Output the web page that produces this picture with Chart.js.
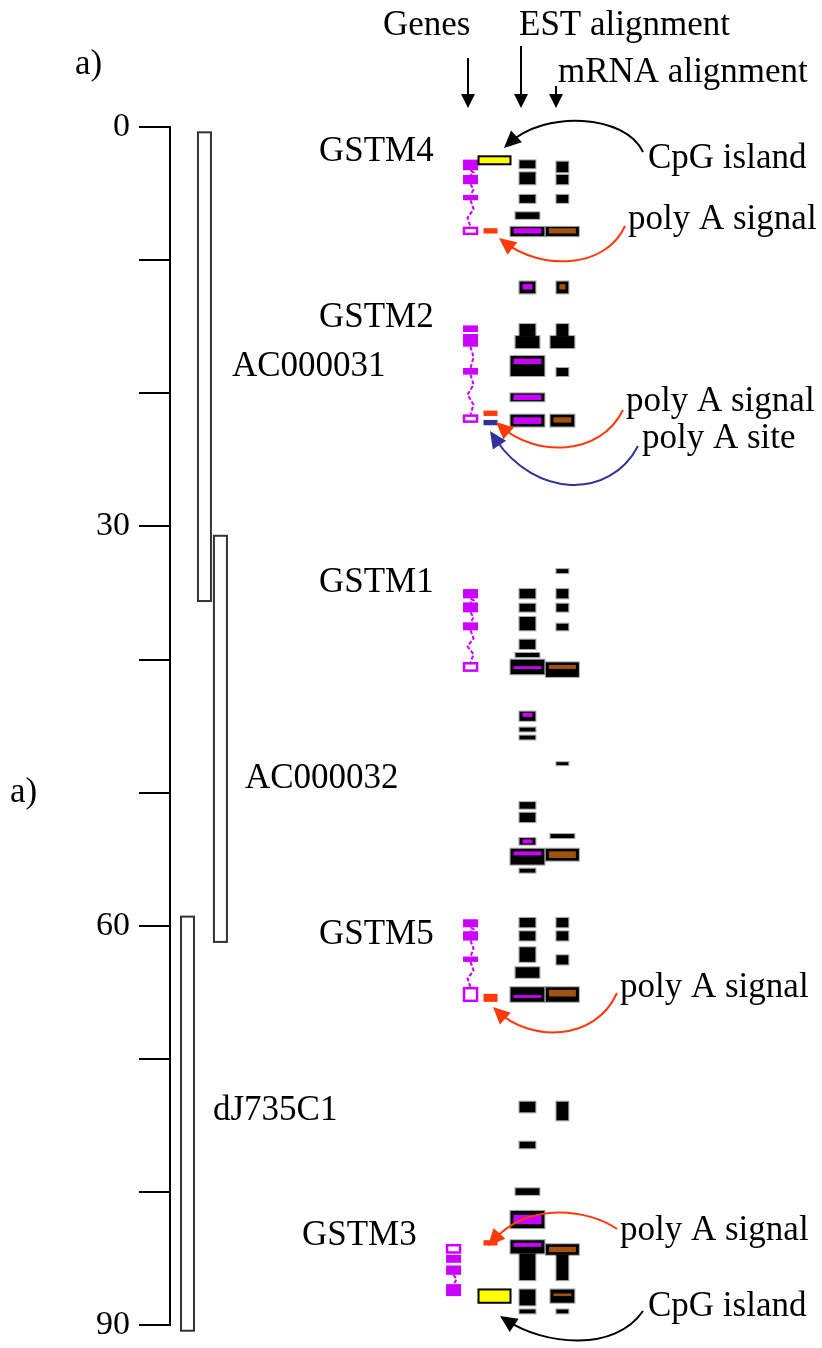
<!DOCTYPE html>
<html>
<head>
<meta charset="utf-8">
<script src="https://cdn.jsdelivr.net/npm/chart.js@4/dist/chart.umd.min.js"></script>
<style>
html,body{margin:0;padding:0;background:#fff;overflow:hidden;}
#c{display:block;}
</style>
</head>
<body>
<canvas id="c" width="822" height="1348"></canvas>
<script>
// ---------- DATA (kb along the contig) ----------
const axisTicks = [0, 10, 20, 30, 40, 50, 60, 70, 80, 90];
const axisLabels = [0, 30, 60, 90];

const cloneNames = ['AC000031', 'AC000032', 'dJ735C1'];
const cloneStart = [0.4, 30.7, 59.3];
const cloneEnd = [35.6, 61.2, 90.4];

const geneNames = ['GSTM4', 'GSTM2', 'GSTM1', 'GSTM5', 'GSTM3'];
const geneStrand = ['+', '+', '+', '+', '-'];
const geneExons = [
  [[2.45, 3.25], [3.6, 4.3], [5.1, 5.5], [7.5, 8.1]],
  [[14.9, 15.4], [15.55, 16.5], [18.1, 18.6], [21.6, 22.2]],
  [[34.7, 35.4], [35.7, 36.45], [37.2, 37.8], [40.2, 40.9]],
  [[59.5, 60.1], [60.4, 61.1], [62.3, 62.7], [64.6, 65.7]],
  [[83.9, 84.6], [84.7, 85.3], [85.5, 86.2], [86.9, 87.8]]
];

const cpgIslands = [[2.2, 2.8], [87.3, 88.3]];
const polyASignals = [[7.6, 8.0], [21.3, 21.7], [65.1, 65.7], [83.6, 84.0]];
const polyASites = [[22.0, 22.4]];

// EST alignments: [start, end, depth]
const estBlocks = [
  [2.5, 3.1, 1], [3.4, 4.3, 1], [5.1, 5.7, 1], [6.4, 6.9, 2], [7.5, 8.2, 3],
  [11.6, 12.5, 1], [14.8, 15.7, 1], [15.7, 16.6, 2], [17.2, 18.7, 3], [20.0, 20.6, 3], [21.6, 22.5, 3],
  [34.7, 35.4, 1], [35.8, 36.4, 1], [36.8, 37.8, 1], [38.5, 39.2, 1], [39.5, 39.8, 2], [40.0, 41.1, 3],
  [43.9, 44.6, 1], [45.1, 45.4, 1], [45.7, 46.0, 1], [50.7, 51.2, 1], [51.5, 52.2, 1],
  [53.4, 53.9, 1], [54.2, 55.4, 3], [55.7, 56.0, 1],
  [59.4, 60.1, 1], [60.4, 61.1, 1], [61.6, 62.7, 1], [63.1, 63.9, 2], [64.6, 65.7, 3],
  [73.2, 74.0, 1], [76.2, 76.7, 1], [79.7, 80.2, 2], [81.4, 82.7, 3], [83.6, 84.6, 3],
  [84.6, 86.6, 1], [87.3, 88.5, 1], [88.8, 89.1, 1]
];
const estMarked = [[7.6, 8.0], [11.8, 12.2], [17.4, 17.8], [20.1, 20.5], [21.8, 22.3], [40.5, 40.7],
  [44.0, 44.3], [53.5, 53.8], [54.4, 54.7], [65.2, 65.4], [81.7, 82.4], [83.8, 84.1]];

// mRNA alignments: [start, end, depth]
const mrnaBlocks = [
  [2.6, 3.4, 1], [3.6, 4.3, 1], [5.1, 5.7, 1], [7.5, 8.2, 3],
  [11.6, 12.5, 1], [14.8, 15.7, 1], [15.7, 16.6, 2], [18.1, 18.7, 1], [21.6, 22.5, 2],
  [33.2, 33.5, 1], [34.7, 35.4, 1], [35.8, 36.4, 1], [37.3, 37.8, 1], [40.2, 41.3, 3],
  [47.7, 47.9, 1], [53.1, 53.4, 2], [54.2, 55.1, 3],
  [59.4, 60.1, 1], [60.4, 61.1, 1], [62.2, 62.9, 1], [64.6, 65.7, 3],
  [73.2, 74.6, 1], [83.9, 84.7, 3], [84.7, 86.6, 1], [87.3, 88.3, 2], [88.8, 89.1, 1]
];
const mrnaMarked = [[7.6, 8.0], [11.8, 12.2], [21.8, 22.2], [40.4, 40.7], [54.4, 54.9], [64.8, 65.3], [84.1, 84.5], [87.6, 87.8]];

// ---------- LAYOUT / STYLE ----------
const FONT = '35px "Liberation Serif", "Times New Roman", serif';
const MAGENTA = '#cc00ff', RED = '#ff3a0a', BLUE = '#32329a', BROWN = '#a3520c', YELLOW = '#ffff00';
const cloneX = [197, 213, 180], cloneW = 13;
const cloneLabelPos = [[232, 376], [245, 788], [213, 1120]];
const geneLabelPos = [[319, 161], [319, 327], [319, 592], [319, 944], [302, 1245]];
const trackX = { genePlus: 470, geneMinus: 453, cpg: 494, polyA: 490, est: 527, mrna: 562 };
const estWidth = { 1: 16, 2: 24, 3: 34 };
const mrnaWidth = { 1: 12, 2: 24, 3: 33 };

const texts = [
  ['a)', 75, 74], ['a)', 10, 802],
  ['Genes', 383, 35], ['EST alignment', 519, 35], ['mRNA alignment', 558, 82],
  ['CpG island', 648, 168], ['poly A signal', 628, 229], ['poly A signal', 626, 411],
  ['poly A site', 642, 448], ['poly A signal', 620, 997], ['poly A signal', 620, 1240],
  ['CpG island', 648, 1316]
];
const downArrows = [[468, 58], [521, 46], [556, 86]];
const curves = [
  ['#000', [643, 152], [625, 114], [545, 110], [504, 148]],
  [RED, [625, 226], [605, 270], [540, 270], [499, 238]],
  [RED, [623, 410], [600, 457], [535, 457], [496, 422]],
  [BLUE, [638, 446], [610, 500], [535, 498], [490, 431]],
  [RED, [617, 993], [595, 1042], [530, 1042], [493, 1007]],
  [RED, [617, 1229], [590, 1210], [530, 1200], [488, 1246]],
  ['#000', [643, 1311], [615, 1352], [545, 1346], [500, 1316]]
];

function arrowHead(ctx, tip, from, color, len, half) {
  const a = Math.atan2(tip[1] - from[1], tip[0] - from[0]);
  ctx.save();
  ctx.fillStyle = color;
  ctx.beginPath();
  ctx.moveTo(tip[0], tip[1]);
  ctx.lineTo(tip[0] - len * Math.cos(a) + half * Math.sin(a), tip[1] - len * Math.sin(a) - half * Math.cos(a));
  ctx.lineTo(tip[0] - len * Math.cos(a) - half * Math.sin(a), tip[1] - len * Math.sin(a) + half * Math.cos(a));
  ctx.closePath();
  ctx.fill();
  ctx.restore();
}

const tracksPlugin = {
  id: 'tracks',
  afterDraw(chart) {
    const { ctx, scales: { x, y } } = chart;
    const X = v => x.getPixelForValue(v);
    const Y = v => y.getPixelForValue(v);
    ctx.save();

    // clones
    cloneNames.forEach((n, i) => {
      const top = Y(cloneStart[i]), bot = Y(cloneEnd[i]);
      ctx.fillStyle = '#fff';
      ctx.fillRect(X(cloneX[i]), top, cloneW, bot - top);
      ctx.strokeStyle = '#333';
      ctx.lineWidth = 2;
      ctx.strokeRect(X(cloneX[i]), top, cloneW, bot - top);
    });

    // text
    ctx.fillStyle = '#000';
    ctx.font = FONT;
    ctx.textBaseline = 'alphabetic';
    ctx.textAlign = 'left';
    cloneNames.forEach((n, i) => ctx.fillText(n, cloneLabelPos[i][0], cloneLabelPos[i][1]));
    geneNames.forEach((n, i) => ctx.fillText(n, geneLabelPos[i][0], geneLabelPos[i][1]));
    texts.forEach(t => ctx.fillText(t[0], t[1], t[2]));

    // header arrows
    ctx.strokeStyle = '#000';
    ctx.lineWidth = 2;
    downArrows.forEach(([ax, ay]) => {
      ctx.beginPath();
      ctx.moveTo(ax, ay);
      ctx.lineTo(ax, 100);
      ctx.stroke();
      arrowHead(ctx, [ax, 108], [ax, ay], '#000', 14, 7);
    });

    // genes
    geneExons.forEach((exons, gi) => {
      const cx = X(geneStrand[gi] === '+' ? trackX.genePlus : trackX.geneMinus);
      const w = 15;
      ctx.strokeStyle = MAGENTA;
      ctx.lineWidth = 2;
      ctx.setLineDash([4, 2]);
      for (let k = 0; k < exons.length - 1; k++) {
        const y0 = Y(exons[k][1]), y1 = Y(exons[k + 1][0]);
        if (y1 - y0 < 3) continue;
        const steps = Math.max(2, Math.round((y1 - y0) / 9));
        ctx.beginPath();
        ctx.moveTo(cx, y0);
        for (let s = 1; s < steps; s++) {
          ctx.lineTo(cx + (s % 2 ? 3 : -3), y0 + (y1 - y0) * s / steps);
        }
        ctx.lineTo(cx, y1);
        ctx.stroke();
      }
      ctx.setLineDash([]);
      exons.forEach((e, k) => {
        const t = Y(e[0]), b = Y(e[1]);
        const utr = geneStrand[gi] === '+' ? k === exons.length - 1 : k === 0;
        if (utr) {
          ctx.fillStyle = '#fff';
          ctx.fillRect(cx - w / 2, t, w, b - t);
          ctx.strokeStyle = MAGENTA;
          ctx.lineWidth = 2.5;
          ctx.strokeRect(cx - w / 2 + 1, t + 1, w - 2, b - t - 2);
        } else {
          ctx.fillStyle = MAGENTA;
          ctx.fillRect(cx - w / 2, t, w, b - t);
        }
      });
    });

    // CpG islands
    cpgIslands.forEach(([s, e]) => {
      const t = Y(s), b = Y(e);
      ctx.fillStyle = YELLOW;
      ctx.fillRect(X(trackX.cpg) - 16, t, 32, b - t);
      ctx.strokeStyle = '#000';
      ctx.lineWidth = 2;
      ctx.strokeRect(X(trackX.cpg) - 16, t, 32, b - t);
    });
    polyASignals.forEach(([s, e]) => {
      ctx.fillStyle = RED;
      ctx.fillRect(X(trackX.polyA) - 7, Y(s), 14, Y(e) - Y(s));
    });
    polyASites.forEach(([s, e]) => {
      ctx.fillStyle = BLUE;
      ctx.fillRect(X(trackX.polyA) - 7, Y(s), 14, Y(e) - Y(s));
    });

    // EST + mRNA alignments
    function drawBlocks(blocks, cxv, widths) {
      const cx = X(cxv);
      blocks.forEach(([s, e, d]) => {
        const w = widths[d];
        const t = Y(s), b = Y(e);
        ctx.fillStyle = '#000';
        ctx.fillRect(cx - w / 2, t, w, Math.max(3, b - t));
        ctx.strokeStyle = 'rgba(0,0,0,0.35)';
        ctx.lineWidth = 1;
        ctx.strokeRect(cx - w / 2 - 0.5, t - 0.5, w + 1, Math.max(3, b - t) + 1);
      });
    }
    drawBlocks(estBlocks, trackX.est, estWidth);
    drawBlocks(mrnaBlocks, trackX.mrna, mrnaWidth);
    function drawMarks(marks, blocks, cxv, widths, color) {
      const cx = X(cxv);
      marks.forEach(([s, e]) => {
        const host = blocks.find(bk => bk[0] <= s + 0.05 && bk[1] >= e - 0.05);
        const w = host ? widths[host[2]] : 12;
        ctx.fillStyle = color;
        ctx.fillRect(cx - w / 2 + 3, Y(s), w - 6, Y(e) - Y(s));
      });
    }
    drawMarks(estMarked, estBlocks, trackX.est, estWidth, MAGENTA);
    drawMarks(mrnaMarked, mrnaBlocks, trackX.mrna, mrnaWidth, BROWN);

    // curved pointer arrows
    curves.forEach(([col, p0, p1, p2, p3]) => {
      ctx.strokeStyle = col;
      ctx.lineWidth = 2;
      ctx.beginPath();
      ctx.moveTo(p0[0], p0[1]);
      const ex = p3[0] + (p2[0] - p3[0]) * 0.12, ey = p3[1] + (p2[1] - p3[1]) * 0.12;
      ctx.bezierCurveTo(p1[0], p1[1], p2[0], p2[1], ex, ey);
      ctx.stroke();
      arrowHead(ctx, p3, p2, col, 17, 8);
    });

    ctx.restore();
  }
};

new Chart(document.getElementById('c'), {
  type: 'scatter',
  data: { datasets: [{ data: [] }] },
  options: {
    responsive: false,
    animation: false,
    events: [],
    layout: { padding: { top: 127, bottom: 15, left: 0, right: 0 } },
    plugins: { legend: { display: false }, tooltip: { enabled: false } },
    scales: {
      x: { type: 'linear', display: false, min: 169, max: 822 },
      y: {
        type: 'linear', reverse: true, min: 0, max: 90,
        afterFit(s) { s.width = 170; },
        afterBuildTicks(s) { s.ticks = axisTicks.map(v => ({ value: v })); },
        border: { display: true, color: '#000', width: 2 },
        grid: { drawOnChartArea: false, drawTicks: true, tickLength: 31, color: '#000', lineWidth: 2 },
        ticks: {
          autoSkip: false, padding: 9, color: '#000',
          font: { family: '"Liberation Serif"', size: 34, lineHeight: 0.8 },
          callback: v => axisLabels.includes(v) ? String(v) : ''
        }
      }
    }
  },
  plugins: [tracksPlugin]
});
</script>
</body>
</html>
